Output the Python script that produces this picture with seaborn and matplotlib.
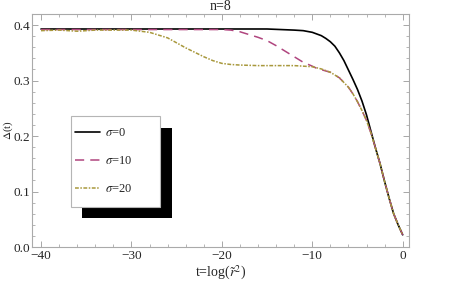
import matplotlib
matplotlib.use("Agg")
import matplotlib.pyplot as plt
import seaborn as sns
from matplotlib.patches import Rectangle
from matplotlib.ticker import MultipleLocator, FormatStrFormatter

# shared steep part near t=0 (all three curves coincide there)
t_tail = [-3, -2.5, -2, -1.5, -1, -0.5, 0]
d_tail = [0.178, 0.150, 0.118, 0.088, 0.060, 0.040, 0.022]

t_s0 = [-40, -30, -20, -15, -12, -11, -10, -9, -8.5, -8, -7.5, -7, -6.5, -6, -5.5, -5,
        -4.5, -4, -3.5] + t_tail
d_s0 = [0.393, 0.393, 0.393, 0.393, 0.391, 0.390, 0.387, 0.381, 0.376, 0.370, 0.362,
        0.350, 0.336, 0.319, 0.302, 0.284, 0.263, 0.238, 0.208] + d_tail

t_s20 = [-40, -38, -36, -34, -32, -30, -28, -26, -24, -22, -21, -20, -19, -18, -16, -14,
         -12, -11, -10, -9, -8, -7, -6, -5.5, -5, -4.5, -4, -3.5] + t_tail
d_s20 = [0.390, 0.391, 0.389, 0.391, 0.391, 0.391, 0.387, 0.377, 0.359, 0.343, 0.336,
         0.331, 0.329, 0.328, 0.327, 0.327, 0.327, 0.326, 0.325, 0.321, 0.315, 0.305,
         0.288, 0.276, 0.262, 0.246, 0.228, 0.205] + d_tail

t_s10 = [-40, -30, -25, -20, -19, -18, -17, -16, -15, -14, -13, -12, -11, -10, -9.5] + t_s20[20:]
d_s10 = [0.392, 0.392, 0.392, 0.392, 0.391, 0.388, 0.383, 0.378, 0.372, 0.363, 0.353,
         0.343, 0.333, 0.326, 0.322] + d_s20[20:]

labels = [r"$\sigma$=0", r"$\sigma$=10", r"$\sigma$=20"]

sns.set_style("ticks")
plt.rcParams["font.family"] = ["Liberation Serif", "DejaVu Serif"]
plt.rcParams["mathtext.fontset"] = "stix"
plt.rcParams["axes.unicode_minus"] = True

fig = plt.figure(figsize=(4.53, 2.82), dpi=100)
ax = fig.add_axes([0.0706, 0.1241, 0.8323, 0.8262])

sns.lineplot(x=t_s0, y=d_s0, ax=ax, color="black", lw=1.2, label=labels[0])
sns.lineplot(x=t_s10, y=d_s10, ax=ax, color="#b0457f", lw=1.1,
             linestyle=(0, (6, 4)), label=labels[1])
sns.lineplot(x=t_s20, y=d_s20, ax=ax, color="#a8983c", lw=1.1,
             linestyle=(0, (2.5, 1, 1, 1)), label=labels[2])

ax.set_xlim(-41, 0.7)
ax.set_ylim(0, 0.42)
ax.xaxis.set_major_locator(MultipleLocator(10))
ax.xaxis.set_minor_locator(MultipleLocator(2))
ax.yaxis.set_major_locator(MultipleLocator(0.1))
ax.yaxis.set_minor_locator(MultipleLocator(0.02))
ax.yaxis.set_major_formatter(FormatStrFormatter("%.1f"))
ax.tick_params(which="both", direction="in", top=True, right=True,
               color="#999999", labelsize=9.5)
ax.tick_params(axis="y", pad=1.5)
ax.tick_params(axis="x", pad=2.5)
ax.tick_params(which="major", length=4, width=0.6)
ax.tick_params(which="minor", length=2.2, width=0.5)
for s in ax.spines.values():
    s.set_color("#aaaaaa")
    s.set_linewidth(0.8)

ax.set_title("n=8", fontsize=10, pad=3)
ax.set_xlabel(r"t=log($\tilde{r}^2$)", fontsize=10, labelpad=1)
ax.set_ylabel(r"$\Delta$(t)", fontsize=8, va="center")
ax.yaxis.set_label_coords(-0.064, 0.5)

ax.get_legend().remove()
handles, labs = ax.get_legend_handles_labels()

# legend box with a hard black drop shadow
fig.add_artist(Rectangle((0.1817, 0.2259), 0.197, 0.3216, transform=fig.transFigure,
                         facecolor="black", edgecolor="none", zorder=2))
fig.add_artist(Rectangle((0.156, 0.267), 0.197, 0.3216, transform=fig.transFigure,
                         facecolor="white", edgecolor="#b5b5b5", lw=0.8, zorder=3))
fig.legend(handles, labs, loc="center left", bbox_to_anchor=(0.1655, 0.4278),
           frameon=False, fontsize=9, borderpad=0, borderaxespad=0, labelspacing=1.28,
           handlelength=2.0, handletextpad=0.4)

fig.savefig("out.png", dpi=100)
